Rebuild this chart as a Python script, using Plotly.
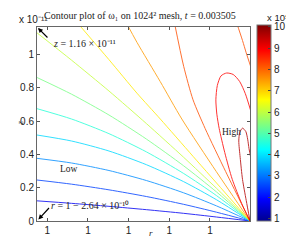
import plotly.graph_objects as go
from plotly.colors import sample_colorscale

# ---- data (r offset in units of 1e-10, z in units of 1e-11) ----
R_MAX = 2.64
Z_MAX = 1.164

levels = [1.8, 2.5, 3.2, 3.9, 4.6, 5.35, 6.05, 6.75, 7.5, 8.2, 8.9, 9.6]   # x 1e5
CMIN, CMAX = 0.88, 10.09

fan_r = [0.0, 0.428, 0.892, 1.355, 1.818, 2.223, 2.64]
c01_z = [0.121, 0.106, 0.088, 0.068, 0.046, 0.024, 0.0]
c02_z = [0.246, 0.221, 0.187, 0.147, 0.100, 0.053, 0.0]
c03_z = [0.376, 0.348, 0.303, 0.243, 0.169, 0.091, 0.0]
c04_z = [0.516, 0.480, 0.420, 0.338, 0.236, 0.128, 0.0]
c05_z = [0.674, 0.612, 0.524, 0.415, 0.285, 0.153, 0.0]
c06_z = [0.861, 0.761, 0.636, 0.492, 0.331, 0.175, 0.0]
c07_z = [1.129, 0.965, 0.780, 0.585, 0.382, 0.197, 0.0]

c08_r = [0.504, 0.892, 1.239, 1.528, 1.934, 2.64]
c08_z = [1.187, 0.968, 0.767, 0.612, 0.388, 0.0]

c09_r = [1.103, 1.239, 1.528, 1.795, 2.223, 2.64]
c09_z = [1.193, 1.072, 0.836, 0.612, 0.296, 0.0]

c10_r = [1.702, 1.818, 1.934, 2.084, 2.339, 2.64]
c10_z = [1.193, 0.928, 0.727, 0.555, 0.296, 0.0]
c10b_r = [2.472, 2.547, 2.593, 2.651]
c10b_z = [1.193, 1.083, 1.009, 0.923]

c11_r = [2.651, 2.582, 2.513, 2.432, 2.351, 2.281, 2.235, 2.217, 2.229, 2.258, 2.327, 2.420, 2.536, 2.64]
c11_z = [0.658, 0.764, 0.836, 0.879, 0.888, 0.871, 0.813, 0.727, 0.641, 0.555, 0.411, 0.250, 0.106, 0.0]

c12_r = [2.64, 2.593, 2.547, 2.518, 2.501, 2.513, 2.547, 2.588, 2.611, 2.628, 2.651]
c12_z = [0.0, 0.124, 0.250, 0.382, 0.480, 0.532, 0.557, 0.537, 0.491, 0.434, 0.376]

x_tickvals = [0.128, 0.632, 1.136, 1.64, 2.144]
x_ticktext = ["1", "1", "1", "1", "1"]
y_tickvals = [0, 0.2, 0.4, 0.6, 0.8, 1]
y_ticktext = ["0", "0.2", "0.4", "0.6", "0.8", "1"]
cb_tickvals = [1, 2, 3, 4, 5, 6, 7, 8, 9, 10]

# MATLAB jet
jet = [[0.0, "rgb(0,0,143)"], [0.111, "rgb(0,0,255)"], [0.365, "rgb(0,255,255)"],
       [0.619, "rgb(255,255,0)"], [0.873, "rgb(255,0,0)"], [1.0, "rgb(128,0,0)"]]

curves = [
    (fan_r, c01_z, 0), (fan_r, c02_z, 1), (fan_r, c03_z, 2), (fan_r, c04_z, 3),
    (fan_r, c05_z, 4), (fan_r, c06_z, 5), (fan_r, c07_z, 6),
    (c08_r, c08_z, 7), (c09_r, c09_z, 8), (c10_r, c10_z, 9), (c10b_r, c10b_z, 9),
    (c11_r, c11_z, 10), (c12_r, c12_z, 11),
]

fig = go.Figure()
for r, z, k in curves:
    frac = (levels[k] - CMIN) / (CMAX - CMIN)
    col = sample_colorscale(jet, [frac])[0]
    fig.add_trace(go.Scatter(x=r, y=z, mode="lines",
                             line=dict(color=col, width=1, shape="spline", smoothing=0.7),
                             opacity=0.8, hoverinfo="skip", showlegend=False))

# colorbar carrier (points outside the visible range)
fig.add_trace(go.Scatter(
    x=[-1, -1], y=[-1, -1], mode="markers", showlegend=False, hoverinfo="skip",
    marker=dict(color=[CMIN, CMAX], colorscale=jet, cmin=CMIN, cmax=CMAX, showscale=True,
                colorbar=dict(x=1.035, xanchor="left", thickness=14, thicknessmode="pixels",
                              len=1.01, lenmode="fraction", y=0.505, yanchor="middle",
                              tickvals=cb_tickvals, ticks="inside", ticklen=3,
                              tickcolor="#444", outlinecolor="#777", outlinewidth=1,
                              tickfont=dict(family="Liberation Sans", size=10, color="#222"),
                              ypad=0, xpad=0))))

serif = "Liberation Serif"
sans = "Liberation Sans"
ann = []
ann.append(dict(text="Contour plot of ω₁ on 1024² mesh, <i>t</i> = 0.003505",
                xref="paper", yref="paper", x=0.482, y=1.058, showarrow=False,
                font=dict(family=serif, size=10, color="#222"), xanchor="center", yanchor="middle"))
ann.append(dict(text="x 10⁻¹¹", xref="paper", yref="paper", x=-0.092, y=1.04,
                showarrow=False, xanchor="left", yanchor="middle",
                font=dict(family=sans, size=10, color="#222")))
ann.append(dict(text="x 10⁵", xref="paper", yref="paper", x=1.072, y=1.05,
                showarrow=False, xanchor="left", yanchor="middle",
                font=dict(family=sans, size=9.5, color="#222")))
ann.append(dict(text="<i>z</i> = 1.16 × 10⁻¹¹", x=0.174, y=1.066, showarrow=False,
                xanchor="left", yanchor="middle", font=dict(family=serif, size=10, color="#222")))
ann.append(dict(text="", x=0.012, y=1.158, ax=11, ay=11, showarrow=True, arrowhead=2,
                arrowsize=0.8, arrowwidth=1.2, arrowcolor="black"))
ann.append(dict(text="<i>r</i> = 1 − 2.64 × 10⁻¹⁰", x=0.151, y=0.095, showarrow=False,
                xanchor="left", yanchor="middle", font=dict(family=serif, size=10, color="#222")))
ann.append(dict(text="", x=0.017, y=0.009, ax=12, ay=-13, showarrow=True, arrowhead=2,
                arrowsize=0.8, arrowwidth=1.2, arrowcolor="black"))
ann.append(dict(text="Low", x=0.40, y=0.313, showarrow=False, xanchor="center", yanchor="middle",
                font=dict(family=serif, size=9.5, color="#222")))
ann.append(dict(text="High", x=2.414, y=0.537, showarrow=False, xanchor="center", yanchor="middle",
                font=dict(family=serif, size=9.5, color="#222")))
ann.append(dict(text="<i>r</i>", xref="paper", yref="paper", x=0.535, y=-0.062, showarrow=False,
                xanchor="center", yanchor="middle", font=dict(family=serif, size=9, color="#222")))
ann.append(dict(text="<i>z</i>", xref="paper", yref="paper", x=-0.079, y=0.505, showarrow=False,
                textangle=-90, xanchor="center", yanchor="middle",
                font=dict(family=serif, size=8, color="#222")))

axis_common = dict(showgrid=False, zeroline=False, showline=True, linecolor="#666", linewidth=1,
                   mirror="ticks", ticks="inside", ticklen=3, tickcolor="#555",
                   tickfont=dict(family=sans, size=10, color="#222"))

fig.update_layout(
    width=294, height=240, margin=dict(l=23, r=43, t=19, b=19),
    paper_bgcolor="white", plot_bgcolor="white", annotations=ann,
    xaxis=dict(range=[0, R_MAX], tickvals=x_tickvals, ticktext=x_ticktext, **axis_common),
    yaxis=dict(range=[0, Z_MAX], tickvals=y_tickvals, ticktext=y_ticktext, **axis_common),
)
fig.write_html("out.html")
